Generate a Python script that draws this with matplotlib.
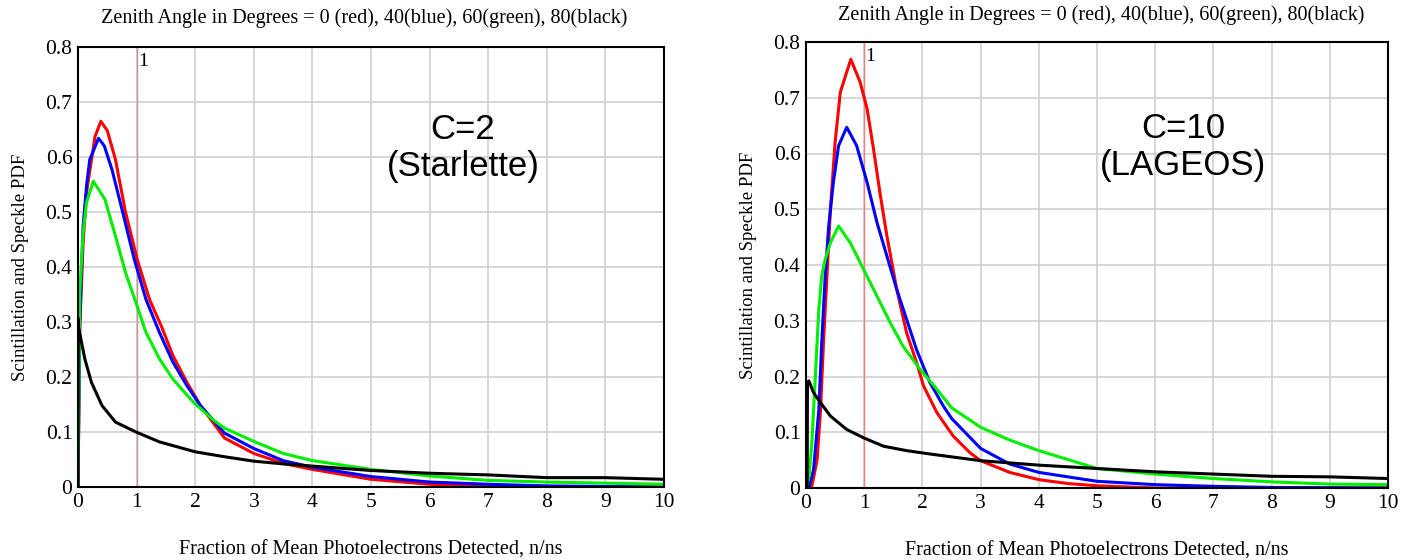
import numpy as np
import matplotlib.pyplot as plt

# C=2 (Starlette) curves
x_red_l = [0, 0.03, 0.087, 0.145, 0.23, 0.29, 0.39, 0.5, 0.64, 0.81, 1.01, 1.22, 1.42, 1.62, 1.86, 2.09,
           2.5, 3, 3.5, 4, 5, 6, 7, 7.2, 10]
y_red_l = [0, 0.29, 0.444, 0.535, 0.595, 0.637, 0.665, 0.648, 0.595, 0.5, 0.414, 0.341, 0.293, 0.239, 0.19, 0.148,
           0.089, 0.061, 0.043, 0.032, 0.014, 0.005, 0.001, 0, 0]
x_blue_l = [0, 0.03, 0.087, 0.145, 0.2, 0.35, 0.45, 0.58, 0.75, 0.96, 1.16, 1.39, 1.62, 1.86, 2.09,
            2.5, 3, 3.5, 4, 5, 6, 7, 8, 9, 10]
y_blue_l = [0, 0.3, 0.474, 0.547, 0.595, 0.634, 0.62, 0.577, 0.505, 0.414, 0.341, 0.281, 0.227, 0.184, 0.148,
            0.098, 0.07, 0.048, 0.036, 0.019, 0.009, 0.005, 0.002, 0.001, 0.0]
x_green_l = [0, 0.03, 0.087, 0.145, 0.26, 0.46, 0.64, 0.81, 0.99, 1.16, 1.39, 1.62, 1.97, 2.32,
             2.5, 3, 3.5, 4, 5, 6, 7, 8, 9, 10]
y_green_l = [0, 0.353, 0.462, 0.517, 0.556, 0.523, 0.456, 0.39, 0.335, 0.281, 0.233, 0.196, 0.154, 0.121,
             0.107, 0.083, 0.061, 0.048, 0.032, 0.02, 0.012, 0.009, 0.007, 0.005]
x_black_l = [0, 0.005, 0.01, 0.116, 0.23, 0.41, 0.64, 0.99, 1.39, 2.0, 2.5, 3, 3.5, 4, 5, 6, 7, 8, 9, 10]
y_black_l = [0, 0.306, 0.29, 0.233, 0.19, 0.148, 0.118, 0.1, 0.082, 0.064, 0.055, 0.047, 0.042, 0.038,
             0.030, 0.025, 0.022, 0.017, 0.017, 0.014]

# C=10 (LAGEOS) curves
x_red_r = [0, 0.1, 0.19, 0.25, 0.30, 0.36, 0.42, 0.5, 0.59, 0.77, 0.93, 1.05, 1.16, 1.27, 1.39, 1.56, 1.73,
           1.9, 2.02, 2.25, 2.53, 2.82, 3, 3.5, 4, 4.5, 5, 5.5, 6, 10]
y_red_r = [0, 0.003, 0.05, 0.14, 0.26, 0.38, 0.5, 0.62, 0.71, 0.769, 0.728, 0.68, 0.608, 0.53, 0.452, 0.356,
           0.278, 0.225, 0.183, 0.135, 0.093, 0.063, 0.049, 0.028, 0.015, 0.008, 0.004, 0.002, 0, 0]
x_blue_r = [0, 0.05, 0.13, 0.22, 0.27, 0.33, 0.39, 0.47, 0.56, 0.7, 0.87, 1.05, 1.22, 1.39, 1.56, 1.73, 1.9,
            2.13, 2.36, 2.5, 3, 3.5, 4, 5, 6, 7, 8, 10]
y_blue_r = [0, 0, 0.033, 0.14, 0.26, 0.38, 0.47, 0.548, 0.614, 0.647, 0.614, 0.548, 0.476, 0.416, 0.356,
            0.302, 0.248, 0.189, 0.147, 0.125, 0.071, 0.043, 0.028, 0.012, 0.006, 0.003, 0.001, 0]
x_green_r = [0, 0.05, 0.1, 0.16, 0.22, 0.27, 0.33, 0.42, 0.56, 0.76, 0.99, 1.22, 1.45, 1.67, 1.96, 2.25,
             2.5, 3, 3.5, 4, 5, 6, 7, 8, 9, 10]
y_green_r = [0, 0.02, 0.08, 0.2, 0.32, 0.38, 0.41, 0.44, 0.47, 0.44, 0.392, 0.344, 0.296, 0.254, 0.213,
             0.177, 0.144, 0.109, 0.086, 0.067, 0.035, 0.025, 0.017, 0.011, 0.007, 0.006]
x_black_r = [0, 0.02, 0.025, 0.05, 0.13, 0.25, 0.42, 0.7, 0.99, 1.33, 1.73, 2.13, 3, 4, 5, 6, 7, 8, 9, 10]
y_black_r = [0, 0, 0.19, 0.192, 0.171, 0.153, 0.129, 0.105, 0.09, 0.075, 0.067, 0.061, 0.049, 0.041,
             0.035, 0.029, 0.025, 0.021, 0.02, 0.017]

x_ticks = [0, 1, 2, 3, 4, 5, 6, 7, 8, 9, 10]
y_ticks = [0, 0.1, 0.2, 0.3, 0.4, 0.5, 0.6, 0.7, 0.8]
y_ticklabels = ['0', '0.1', '0.2', '0.3', '0.4', '0.5', '0.6', '0.7', '0.8']

plt.rcParams['font.family'] = ['Liberation Serif', 'DejaVu Serif']

W, H = 1407, 560
fig = plt.figure(figsize=(14.07, 5.6), dpi=100)
ax1 = fig.add_axes([78/W, 1-487/H, (664-78)/W, (487-47)/H])
ax2 = fig.add_axes([806/W, 1-488/H, (1388-806)/W, (488-42)/H])

green = '#00ee00'
panels = [
    (ax1, [(x_red_l, y_red_l, 'red'), (x_blue_l, y_blue_l, 'blue'),
           (x_green_l, y_green_l, green), (x_black_l, y_black_l, 'black')],
     'C=2\n(Starlette)', 0.657, 0.77, '#c89090', (364, 18)),
    (ax2, [(x_red_r, y_red_r, 'red'), (x_blue_r, y_blue_r, 'blue'),
           (x_green_r, y_green_r, green), (x_black_r, y_black_r, 'black')],
     'C=10\n(LAGEOS)', 0.648, 0.765, '#f08080', (1101, 15)),
]

title = 'Zenith Angle in Degrees = 0 (red), 40(blue), 60(green), 80(black)'
for ax, curves, note, nx, ny, vcol, tpos in panels:
    ax.set_xlim(0, 10)
    ax.set_ylim(0, 0.8)
    ax.set_xticks(x_ticks)
    ax.set_yticks(y_ticks)
    ax.set_yticklabels(y_ticklabels)
    ax.grid(True, color='#d0d0d0', lw=1.2)
    ax.set_axisbelow(True)
    ax.tick_params(length=0, labelsize=15.5, pad=4)
    for s in ax.spines.values():
        s.set_linewidth(1.5)
    ax.axvline(1, color=vcol, lw=1)
    ax.text(1.02, 0.79, '1', fontsize=14, va='top', ha='left')
    for xs, ys, c in curves:
        ax.plot(xs, ys, color=c, lw=2.2)
    ax.text(nx, ny, note, transform=ax.transAxes, ha='center', va='center',
            fontsize=25, family=['Liberation Sans', 'DejaVu Sans'], linespacing=1.15)
    fig.text(tpos[0]/W, 1-tpos[1]/H, title, fontsize=14.5, ha='center', va='center')
    ax.set_xlabel('Fraction of Mean Photoelectrons Detected, n/ns', fontsize=14.5, labelpad=21)
    ax.set_ylabel('Scintillation and Speckle PDF', fontsize=13.5, labelpad=12)

plt.savefig('out.png', dpi=100)
